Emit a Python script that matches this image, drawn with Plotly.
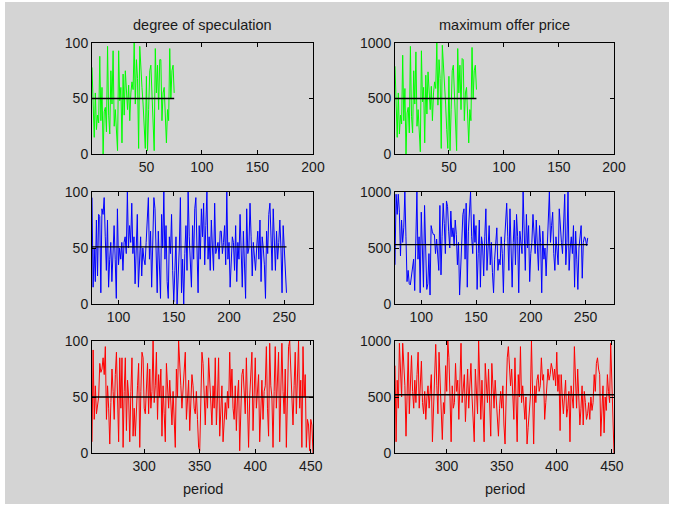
import plotly.graph_objects as go

# ---------------- data ----------------
spec_top = [78, 42, 15, 55, 22, 35, 28, 88, 30, 60,
            0, 38, 42, 20, 97, 35, 18, 75, 45, 93,
            25, 40, 20, 3, 93, 48, 60, 10, 72, 35,
            75, 50, 40, 62, 30, 55, 65, 58, 100, 45,
            85, 68, 5, 97, 83, 60, 45, 22, 5, 70,
            3, 40, 75, 80, 50, 25, 3, 95, 55, 80,
            40, 85, 85, 30, 55, 60, 35, 10, 40, 30,
            95, 50, 75, 80, 55]
offer_top = [790, 430, 150, 550, 180, 350, 270, 890, 300, 590,
             0, 370, 420, 190, 970, 340, 190, 750, 450, 920,
             250, 400, 190, 20, 930, 470, 600, 100, 710, 360,
             740, 490, 400, 610, 300, 550, 650, 590, 1000, 440,
             850, 680, 50, 980, 830, 600, 450, 220, 50, 700,
             30, 400, 750, 800, 500, 250, 30, 950, 550, 800,
             400, 860, 850, 300, 550, 600, 350, 100, 400, 300,
             960, 500, 750, 800, 580]
spec_mid = [95, 15, 50, 20, 75, 25, 80, 78, 10, 85,
            80, 95, 60, 30, 75, 15, 40, 55, 20, 50,
            70, 40, 5, 85, 35, 50, 40, 55, 30, 55,
            60, 45, 100, 50, 70, 55, 90, 45, 60, 18,
            50, 80, 15, 40, 60, 25, 50, 40, 35, 55,
            70, 95, 40, 65, 15, 60, 95, 85, 40, 10,
            65, 30, 5, 80, 50, 100, 40, 70, 20, 5,
            60, 45, 80, 30, 2, 30, 60, 0, 25, 50,
            95, 10, 40, 0, 45, 70, 30, 100, 60, 35,
            15, 70, 40, 85, 95, 50, 10, 70, 40, 85,
            60, 90, 35, 70, 100, 40, 60, 30, 75, 50,
            30, 90, 45, 50, 55, 40, 65, 65, 45, 55,
            70, 35, 100, 40, 55, 15, 45, 60, 55, 30,
            70, 20, 55, 40, 80, 35, 15, 65, 40, 5,
            85, 45, 50, 90, 60, 25, 55, 40, 30, 50,
            65, 40, 75, 20, 60, 50, 35, 5, 65, 45,
            80, 90, 50, 30, 85, 60, 30, 65, 40, 55,
            75, 50, 10, 70, 45, 30, 10]
offer_mid = [350, 980, 800, 980, 820, 430, 750, 550, 680, 1000,
             600, 200, 300, 180, 170, 250, 320, 400, 120, 550,
             1000, 400, 600, 100, 820, 500, 150, 880, 400, 130,
             180, 450, 80, 700, 650, 620, 620, 450, 580, 400,
             300, 880, 260, 600, 900, 720, 450, 920, 870, 650,
             500, 830, 600, 680, 520, 750, 620, 350, 550, 80,
             300, 550, 800, 850, 400, 900, 150, 650, 900, 1000,
             600, 450, 800, 550, 700, 130, 450, 750, 150, 600,
             520, 250, 600, 850, 300, 500, 700, 350, 550, 280,
             100, 400, 570, 680, 300, 400, 350, 600, 450, 100,
             550, 700, 900, 600, 300, 850, 500, 150, 550, 750,
             350, 800, 600, 100, 650, 550, 450, 1000, 600, 300,
             800, 500, 700, 200, 450, 550, 800, 600, 450, 750,
             500, 300, 700, 550, 100, 650, 400, 500, 250, 600,
             750, 1000, 550, 700, 820, 450, 300, 600, 500, 350,
             850, 650, 550, 450, 700, 980, 350, 550, 1000, 300,
             500, 600, 450, 700, 150, 650, 400, 130, 500, 600,
             700, 230, 550, 600, 580, 520, 590]
spec_bot = [10, 92, 30, 60, 35, 45, 50, 80, 72, 75,
            85, 70, 95, 30, 60, 40, 8, 45, 75, 55,
            30, 70, 90, 50, 10, 85, 40, 85, 5, 55,
            85, 20, 65, 50, 10, 55, 85, 15, 40, 15,
            45, 60, 80, 5, 55, 90, 85, 40, 35, 60,
            80, 35, 75, 40, 55, 100, 45, 60, 90, 30,
            70, 50, 75, 15, 60, 35, 10, 80, 55, 40,
            65, 45, 25, 55, 20, 5, 75, 50, 100, 85,
            60, 40, 55, 70, 90, 30, 45, 65, 20, 50,
            70, 60, 40, 35, 55, 30, 5, 2, 45, 90,
            80, 55, 25, 60, 40, 85, 65, 45, 25, 60,
            40, 85, 25, 50, 85, 15, 45, 60, 10, 35,
            45, 30, 55, 40, 90, 50, 75, 40, 30, 60,
            20, 50, 65, 2, 45, 70, 75, 50, 35, 85,
            40, 5, 50, 70, 90, 20, 55, 85, 40, 60,
            70, 10, 45, 65, 30, 55, 60, 95, 40, 15,
            98, 60, 50, 5, 55, 95, 40, 75, 90, 10,
            60, 98, 55, 35, 75, 5, 50, 95, 100, 70,
            55, 25, 60, 90, 35, 70, 100, 40, 65, 5,
            95, 50, 70, 5, 30, 25, 2, 30, 25, 0]
offer_bot = [780, 100, 650, 400, 980, 700, 500, 980, 750, 600,
             150, 550, 900, 350, 600, 870, 550, 400, 650, 450,
             700, 900, 400, 600, 820, 450, 350, 550, 300, 500,
             600, 400, 550, 700, 100, 450, 650, 970, 600, 350,
             900, 650, 500, 120, 450, 350, 780, 550, 1000, 850,
             500, 100, 600, 400, 450, 800, 550, 650, 300, 700,
             980, 450, 600, 700, 280, 550, 750, 400, 600, 800,
             500, 350, 100, 750, 500, 350, 1000, 600, 300, 650,
             400, 100, 800, 600, 450, 750, 500, 150, 800, 550,
             400, 650, 450, 300, 150, 400, 550, 400, 600, 250,
             80, 500, 850, 950, 700, 600, 750, 450, 300, 850,
             550, 100, 700, 500, 950, 450, 600, 400, 300, 500,
             80, 230, 350, 500, 1000, 400, 80, 600, 450, 650,
             700, 550, 600, 850, 650, 700, 300, 450, 600, 750,
             650, 700, 800, 750, 650, 750, 600, 900, 550, 700,
             200, 700, 500, 350, 500, 650, 320, 400, 550, 100,
             600, 500, 400, 950, 600, 400, 750, 550, 250, 400,
             600, 250, 550, 450, 300, 350, 450, 300, 500, 380,
             450, 700, 550, 800, 850, 750, 700, 150, 450, 600,
             180, 500, 380, 700, 550, 450, 980, 650, 500, 0]

start_periods = [1, 76, 253]
spec_means = [50, 51, 50]
offer_means = [500, 530, 520]
x_ranges = [[1, 200], [76, 276], [253, 452]]
x_ticks = [[50, 100, 150, 200], [100, 150, 200, 250], [300, 350, 400, 450]]
spec_ticks = [0, 50, 100]
offer_ticks = [0, 500, 1000]
titles = ["degree of speculation", "maximum offer price"]
xlabel = "period"
colors = ["#00ff00", "#0000ff", "#ff0000"]

# ---------------- layout geometry ----------------
W, H = 673, 506
col_px = [(92, 313), (395, 614)]
row_px = [(43, 154), (192, 304), (341, 453)]

def xd(a, b):
    return [a / W, b / W]

def yd(t, b):
    return [1 - b / H, 1 - t / H]

fig = go.Figure()
tick_font = dict(family="Liberation Sans, Arial, sans-serif", size=14, color="#1a1a1a")
label_font = dict(family="Liberation Sans, Arial, sans-serif", size=14.5, color="#1a1a1a")

series = [[spec_top, offer_top], [spec_mid, offer_mid], [spec_bot, offer_bot]]
means = [[spec_means[i], offer_means[i]] for i in range(3)]

layout_axes = {}
n = 0
for r in range(3):
    for c in range(2):
        n += 1
        xa = "x" if n == 1 else f"x{n}"
        ya = "y" if n == 1 else f"y{n}"
        vals = series[r][c]
        xs = list(range(start_periods[r], start_periods[r] + len(vals)))
        fig.add_trace(go.Scatter(x=xs, y=vals, mode="lines",
                                 line=dict(color=colors[r], width=1),
                                 xaxis=xa, yaxis=ya, showlegend=False,
                                 hoverinfo="skip"))
        m = means[r][c]
        fig.add_trace(go.Scatter(x=[xs[0], xs[-1]], y=[m, m], mode="lines",
                                 line=dict(color="black", width=1.3),
                                 xaxis=xa, yaxis=ya, showlegend=False,
                                 hoverinfo="skip"))
        common = dict(showline=True, mirror="ticks", linecolor="#000000",
                      linewidth=1, ticks="inside", ticklen=4,
                      tickcolor="#000000", showgrid=False, zeroline=False,
                      tickfont=tick_font, fixedrange=True, automargin=False)
        xkey = "xaxis" if n == 1 else f"xaxis{n}"
        ykey = "yaxis" if n == 1 else f"yaxis{n}"
        layout_axes[xkey] = dict(common, domain=xd(*col_px[c]),
                                 range=x_ranges[r], tickvals=x_ticks[r],
                                 anchor=ya)
        yt = spec_ticks if c == 0 else offer_ticks
        layout_axes[ykey] = dict(common, domain=yd(*row_px[r]),
                                 range=[yt[0], yt[-1]], tickvals=yt,
                                 anchor=xa)

annotations = []
for c in range(2):
    cx = (col_px[c][0] + col_px[c][1]) / 2 / W
    annotations.append(dict(text=titles[c], x=cx, y=1 - 25 / H,
                            xref="paper", yref="paper", showarrow=False,
                            xanchor="center", yanchor="middle", font=label_font))
    annotations.append(dict(text=xlabel, x=cx, y=1 - 489 / H,
                            xref="paper", yref="paper", showarrow=False,
                            xanchor="center", yanchor="middle", font=label_font))

fig.update_layout(
    width=W, height=H, autosize=False,
    margin=dict(l=0, r=0, t=0, b=0, pad=0, autoexpand=False),
    paper_bgcolor="white", plot_bgcolor="white",
    annotations=annotations,
    shapes=[dict(type="rect", xref="paper", yref="paper",
                 x0=5 / W, x1=669 / W, y0=1 - 504 / H, y1=1 - 2 / H,
                 fillcolor="#d4d4d4", line=dict(width=0), layer="below")],
    **layout_axes,
)

post = """
document.documentElement.style.margin = '0';
document.body.style.margin = '0';
document.body.style.overflow = 'hidden';
"""

fig.write_html("out.html", config={"displayModeBar": False}, post_script=post)
